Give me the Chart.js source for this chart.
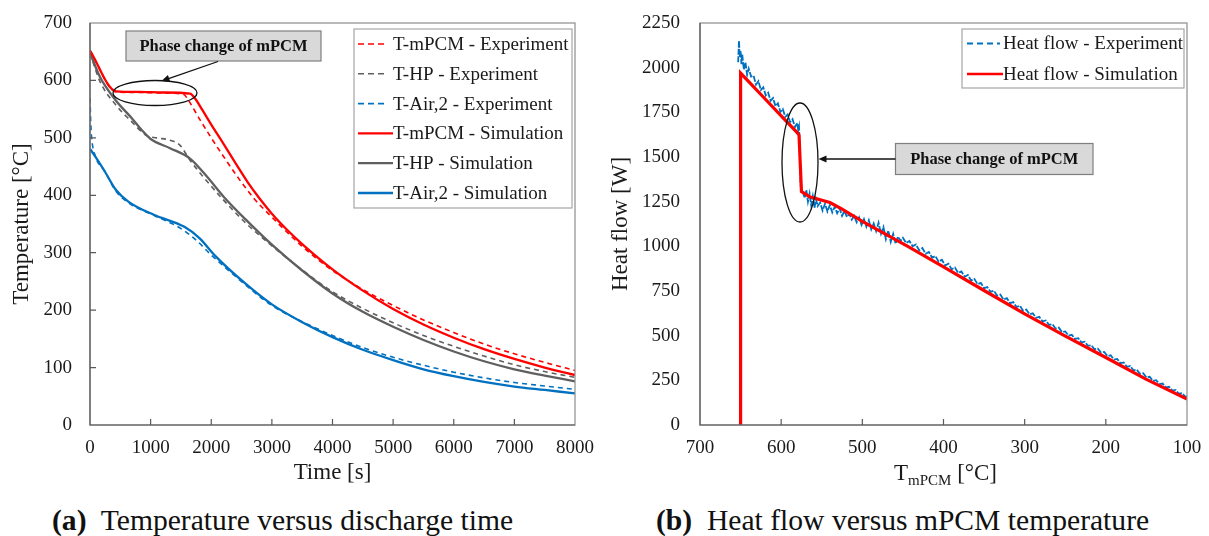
<!DOCTYPE html>
<html>
<head>
<meta charset="utf-8">
<script src="https://cdn.jsdelivr.net/npm/chart.js@4.4.1/dist/chart.umd.min.js"></script>
<style>
body { margin: 0; background: #fff; width: 1209px; height: 536px; overflow: hidden; position: relative;
       font-family: "Liberation Serif", "Times New Roman", serif; }
#chartA { position: absolute; left: 0; top: 0; }
#chartB { position: absolute; left: 600px; top: 0; }
.cap { position: absolute; top: 502px; font-size: 29.6px; line-height: 36px; white-space: pre; color: #111; }
</style>
</head>
<body>
<canvas id="chartA" width="600" height="490"></canvas>
<canvas id="chartB" width="609" height="490"></canvas>
<div class="cap" style="left:52px"><b>(a)</b>  Temperature versus discharge time</div>
<div class="cap" style="left:656px"><b>(b)</b>  Heat flow versus mPCM temperature</div>

<script>
// ---- (a) temperatures vs time ----
const timeTicks = [0, 1000, 2000, 3000, 4000, 5000, 6000, 7000, 8000];
const tempTicks = [0, 100, 200, 300, 400, 500, 600, 700];

const mpcmSimT = [0, 430, 800, 1200, 1650, 1730, 1850, 2000, 2200, 2400, 2600, 2800, 3000, 3250, 3500, 4000, 4500, 5000, 5500, 6000, 6500, 7000, 7500, 8000];
const mpcmSimY = [652, 581, 580, 579, 577, 569, 549, 523, 490, 456, 423, 394, 368, 340, 315, 271, 234, 202, 175, 152, 132, 115, 100, 87];
const mpcmExpT = [0, 430, 800, 1200, 1540, 1620, 1800, 2000, 2200, 2420, 2700, 3000, 3500, 4000, 4500, 5000, 5500, 6000, 6500, 7000, 7500, 8000];
const mpcmExpY = [652, 580, 579, 578, 576, 566, 534, 500, 468, 434, 395, 362, 311, 269, 236, 208, 183, 161, 141, 124, 109, 95];

const hpSimT = [0, 165, 420, 700, 850, 1000, 1320, 1650, 1925, 2200, 2566, 3000, 3500, 4000, 4500, 5000, 5500, 6000, 6500, 7000, 7500, 8000];
const hpSimY = [648, 606, 566, 533, 514, 498, 482, 464, 433, 398, 358, 314, 269, 229, 197, 171, 148, 128, 111, 97, 86, 76];
const hpExpT = [0, 165, 420, 660, 935, 1100, 1320, 1485, 1650, 1869, 2200, 2566, 3000, 3500, 4000, 4500, 5000, 5500, 6000, 6500, 7000, 7500, 8000];
const hpExpY = [648, 598, 558, 531, 504, 500, 496, 487, 461, 432, 392, 352, 312, 270, 232, 203, 178, 156, 137, 120, 105, 93, 83];

const airSimT = [0, 82, 247, 422, 632, 1053, 1557, 1809, 2061, 2566, 3000, 3500, 4000, 4500, 5000, 5500, 6000, 6500, 7000, 7500, 8000];
const airSimY = [481, 468, 441, 410, 389, 366, 345, 325, 295, 246, 210, 179, 153, 131, 113, 97, 85, 75, 67, 61, 55];
const airExpT = [0, 15, 28, 82, 247, 422, 632, 1053, 1500, 1750, 2000, 2566, 3000, 3500, 4000, 4500, 5000, 5500, 6000, 6500, 7000, 7500, 8000];
const airExpY = [569, 520, 499, 470, 441, 408, 387, 365, 342, 322, 296, 244, 208, 180, 156, 135, 118, 104, 92, 82, 74, 68, 62];

// ---- (b) heat flow vs mPCM temperature ----
const tmpTicks = [100, 200, 300, 400, 500, 600, 700];
const heatTicks = [0, 250, 500, 750, 1000, 1250, 1500, 1750, 2000, 2250];

const heatSimT = [650, 650, 640, 620, 600, 580, 578, 575, 565, 540, 526, 500, 444, 400, 349, 300, 251, 200, 150, 100];
const heatSimQ = [0, 1970, 1922, 1826, 1730, 1635, 1622, 1307, 1278, 1245, 1211, 1140, 1000, 885, 750, 622, 500, 378, 255, 145];

const heatExpT = [653, 652, 651, 650, 649, 648, 646, 644, 642, 640, 637, 634, 631, 628, 625, 622, 619, 616, 613, 610,
  607, 604, 601, 598, 595, 592, 589, 586, 583, 580, 579, 578, 577, 576.5, 576, 575, 573, 571, 569, 567,
  565, 563, 561, 559, 557, 555, 552, 549, 546, 543, 540, 537, 534, 531, 528, 525, 522, 519, 516, 513,
  510, 507, 504, 501, 498, 495, 492, 489, 486, 483, 480, 477, 474, 471, 468, 465, 462, 459, 456, 453,
  450, 446, 442, 438, 434, 430, 426, 422, 418, 414, 410, 406, 402, 398, 394, 390, 386, 382, 378, 374,
  370, 366, 362, 358, 354, 350, 346, 342, 338, 334, 330, 326, 322, 318, 314, 310, 306, 302, 298, 294,
  290, 286, 282, 278, 274, 270, 266, 262, 258, 254, 250, 246, 242, 238, 234, 230, 226, 222, 218, 214,
  210, 206, 202, 198, 194, 190, 186, 182, 178, 174, 170, 166, 162, 158, 154, 150, 146, 142, 138, 134,
  130, 126, 122, 118, 114, 110, 106, 102, 100];
const heatExpQ = [2030, 2150, 2060, 2095, 2020, 2075, 1990, 2030, 1960, 1995, 1950, 1955, 1905, 1925, 1875, 1890, 1845, 1860, 1815, 1830,
  1785, 1800, 1752, 1768, 1725, 1738, 1695, 1712, 1668, 1690, 1650, 1670, 1560, 1420, 1340, 1320, 1300, 1270, 1315, 1250,
  1295, 1230, 1280, 1215, 1262, 1225, 1245, 1200, 1238, 1195, 1230, 1190, 1222, 1185, 1212, 1170, 1198, 1165, 1182, 1150,
  1170, 1135, 1162, 1120, 1152, 1110, 1146, 1095, 1128, 1085, 1132, 1070, 1108, 1040, 1088, 1025, 1070, 1015, 1055, 1030,
  1048, 1018, 1030, 1000, 1010, 978, 990, 958, 968, 936, 946, 914, 925, 893, 903, 872, 882, 851, 860, 830,
  840, 808, 818, 788, 795, 766, 772, 745, 752, 724, 730, 702, 710, 682, 688, 660, 668, 640, 646, 620,
  625, 600, 605, 580, 585, 560, 565, 540, 545, 520, 524, 500, 505, 482, 486, 462, 466, 443, 447, 424,
  428, 405, 409, 386, 390, 366, 370, 346, 350, 326, 330, 306, 310, 286, 290, 266, 270, 247, 251, 229,
  232, 211, 214, 193, 196, 175, 178, 157, 160];

const RED = '#ff0000', GREY = '#5f5f5f', BLUE = '#0070c0';
Chart.defaults.font.family = "'Liberation Serif', 'Times New Roman', serif";
Chart.defaults.color = '#1a1a1a';

function pts(xs, ys) {
  return xs.map(function (x, i) { return { x: x, y: ys[i] }; });
}

function line(label, xs, ys, color, width, dash, order, tension) {
  return {
    label: label, data: pts(xs, ys), borderColor: color, backgroundColor: color,
    borderWidth: width, borderDash: dash, pointRadius: 0, order: order,
    tension: tension, cubicInterpolationMode: tension ? 'monotone' : 'default', fill: false
  };
}

// frame, inward ticks, legend box and the callouts
const extras = {
  id: 'extras',
  afterDraw(chart, args, o) {
    const ctx = chart.ctx, a = chart.chartArea;
    const xs = chart.scales.x, ys = chart.scales.y;
    ctx.save();
    ctx.setLineDash([]);
    ctx.strokeStyle = '#8c8c8c';
    ctx.lineWidth = 1.2;
    ctx.strokeRect(a.left, a.top, a.right - a.left, a.bottom - a.top);
    ctx.strokeStyle = '#595959';
    ctx.beginPath();
    ctx.moveTo(a.left, a.top); ctx.lineTo(a.left, a.bottom); ctx.lineTo(a.right, a.bottom);
    (o.xTicks || []).forEach(function (v) {
      const px = xs.getPixelForValue(v);
      ctx.moveTo(px, a.bottom); ctx.lineTo(px, a.bottom - 6);
    });
    (o.yTicks || []).forEach(function (v) {
      const py = ys.getPixelForValue(v);
      ctx.moveTo(a.left, py); ctx.lineTo(a.left + 6, py);
    });
    ctx.stroke();

    // legend
    const L = o.legend;
    ctx.fillStyle = '#fff';
    ctx.fillRect(L.x, L.y, L.w, L.h);
    ctx.strokeStyle = '#a6a6a6';
    ctx.lineWidth = 1.2;
    ctx.strokeRect(L.x, L.y, L.w, L.h);
    ctx.font = "19px 'Liberation Serif'";
    ctx.textBaseline = 'middle';
    chart.data.datasets.forEach(function (d, i) {
      const y = L.y0 + i * L.dy;
      const dashed = d.borderDash && d.borderDash.length;
      ctx.strokeStyle = d.borderColor;
      ctx.lineWidth = Math.min(d.borderWidth, 2.6);
      ctx.setLineDash(dashed ? [6, 4] : []);
      ctx.beginPath();
      ctx.moveTo(L.sx0, y);
      ctx.lineTo(dashed ? L.sx1 : L.tx, y);
      ctx.stroke();
      ctx.setLineDash([]);
      ctx.fillStyle = '#1a1a1a';
      ctx.fillText(d.label, L.tx, y + 1);
    });

    // callout
    const C = o.callout;
    ctx.fillStyle = '#d9d9d9';
    ctx.fillRect(C.bx, C.by, C.bw, C.bh);
    ctx.strokeStyle = '#7f7f7f';
    ctx.lineWidth = 1.2;
    ctx.strokeRect(C.bx, C.by, C.bw, C.bh);
    ctx.fillStyle = '#111';
    ctx.font = "bold 16.5px 'Liberation Serif'";
    ctx.textAlign = 'center';
    ctx.fillText('Phase change of mPCM', C.bx + C.bw / 2, C.by + C.bh / 2 + 1);
    ctx.textAlign = 'left';
    ctx.strokeStyle = '#111';
    ctx.lineWidth = 1.3;
    ctx.beginPath();
    ctx.ellipse(C.ex, C.ey, C.rx, C.ry, 0, 0, Math.PI * 2);
    ctx.stroke();
    const ang = Math.atan2(C.ay1 - C.ay0, C.ax1 - C.ax0);
    ctx.beginPath();
    ctx.moveTo(C.ax0, C.ay0); ctx.lineTo(C.ax1 - 6 * Math.cos(ang), C.ay1 - 6 * Math.sin(ang));
    ctx.stroke();
    ctx.fillStyle = '#111';
    ctx.beginPath();
    ctx.moveTo(C.ax1, C.ay1);
    ctx.lineTo(C.ax1 - 8 * Math.cos(ang) + 3.5 * Math.sin(ang), C.ay1 - 8 * Math.sin(ang) - 3.5 * Math.cos(ang));
    ctx.lineTo(C.ax1 - 8 * Math.cos(ang) - 3.5 * Math.sin(ang), C.ay1 - 8 * Math.sin(ang) + 3.5 * Math.cos(ang));
    ctx.closePath();
    ctx.fill();

    // subscripted axis title
    if (o.subTitle) {
      const s = o.subTitle;
      ctx.fillStyle = '#1a1a1a';
      ctx.textBaseline = 'alphabetic';
      const big = "23px 'Liberation Serif'", small = "15px 'Liberation Serif'";
      ctx.font = big; const w1 = ctx.measureText('T').width, w3 = ctx.measureText(' [°C]').width;
      ctx.font = small; const w2 = ctx.measureText('mPCM').width;
      let x = (a.left + a.right) / 2 - (w1 + w2 + w3) / 2 + 2;
      ctx.font = big; ctx.fillText('T', x, s.y); x += w1;
      ctx.font = small; ctx.fillText('mPCM', x, s.y + 5); x += w2;
      ctx.font = big; ctx.fillText(' [°C]', x, s.y);
    }
    ctx.restore();
  }
};

// the label overhang would otherwise push the plot area in; the layout padding handles it
function fixX(s) { s.height = 65; s.paddingLeft = 0; s.paddingRight = 0; }
function fixY(w) {
  return function (s) { s.width = w; s.paddingTop = 0; s.paddingBottom = 0; };
}

function axis(min, max, step, reverse, title, pad, fit) {
  return {
    type: 'linear', min: min, max: max, reverse: reverse,
    ticks: { stepSize: step, padding: pad, font: { size: 19 }, color: '#1a1a1a', callback: function (v) { return String(v); } },
    grid: { display: false, drawTicks: false },
    border: { display: false },
    title: title,
    afterFit: fit
  };
}

const chartA = new Chart(document.getElementById('chartA'), {
  type: 'line',
  data: {
    datasets: [
      line('T-mPCM - Experiment', mpcmExpT, mpcmExpY, RED, 1.6, [5, 4], 4, 0.4),
      line('T-HP - Experiment', hpExpT, hpExpY, GREY, 1.6, [5, 4], 5, 0.4),
      line('T-Air,2 - Experiment', airExpT, airExpY, BLUE, 1.6, [5, 4], 6, 0.4),
      line('T-mPCM - Simulation', mpcmSimT, mpcmSimY, RED, 2.3, [], 1, 0.4),
      line('T-HP - Simulation', hpSimT, hpSimY, GREY, 2.3, [], 2, 0.4),
      line('T-Air,2 - Simulation', airSimT, airSimY, BLUE, 2.3, [], 3, 0.4)
    ]
  },
  options: {
    responsive: false, animation: false, devicePixelRatio: 1,
    layout: { padding: { left: 0, top: 23, right: 25, bottom: 0 } },
    plugins: {
      legend: { display: false }, tooltip: { enabled: false },
      extras: {
        xTicks: timeTicks.slice(1, -1), yTicks: tempTicks.slice(1, -1),
        legend: { x: 354, y: 29, w: 218, h: 179, y0: 44, dy: 29.8, sx0: 358, sx1: 388, tx: 393 },
        callout: { bx: 126, by: 31, bw: 195, bh: 30, ex: 155, ey: 93, rx: 42, ry: 12.5,
                   ax0: 218, ay0: 61.5, ax1: 161.5, ay1: 81 }
      }
    },
    scales: {
      x: axis(0, 8000, 1000, false,
        { display: true, text: 'Time [s]', font: { size: 23 }, color: '#1a1a1a', padding: { top: 0, bottom: 3 } }, 12, fixX),
      y: axis(0, 700, 100, false,
        { display: true, text: 'Temperature [°C]', font: { size: 23 }, color: '#1a1a1a', padding: { top: 8, bottom: 0 } }, 18, fixY(90))
    }
  },
  plugins: [extras]
});

const chartB = new Chart(document.getElementById('chartB'), {
  type: 'line',
  data: {
    datasets: [
      line('Heat flow - Experiment', heatExpT, heatExpQ, BLUE, 1.8, [6, 1.5], 2, 0),
      line('Heat flow - Simulation', heatSimT, heatSimQ, RED, 3.2, [], 1, 0)
    ]
  },
  options: {
    responsive: false, animation: false, devicePixelRatio: 1,
    layout: { padding: { left: 0, top: 23, right: 22, bottom: 0 } },
    plugins: {
      legend: { display: false }, tooltip: { enabled: false },
      extras: {
        xTicks: tmpTicks.slice(1, -1),
        legend: { x: 362, y: 29, w: 222, h: 59, y0: 43.5, dy: 30.5, sx0: 367, sx1: 400, tx: 403 },
        callout: { bx: 295.5, by: 143.5, bw: 197.5, bh: 31, ex: 200, ey: 162.5, rx: 18, ry: 59.5,
                   ax0: 295.5, ay0: 159, ax1: 218.5, ay1: 159 },
        subTitle: { y: 480 }
      }
    },
    scales: {
      x: axis(100, 700, 100, true, { display: false }, 12, fixX),
      y: axis(0, 2250, 250, false,
        { display: true, text: 'Heat flow [W]', font: { size: 23 }, color: '#1a1a1a', padding: { top: 7, bottom: 0 } }, 20, fixY(100))
    }
  },
  plugins: [extras]
});
</script>
</body>
</html>
